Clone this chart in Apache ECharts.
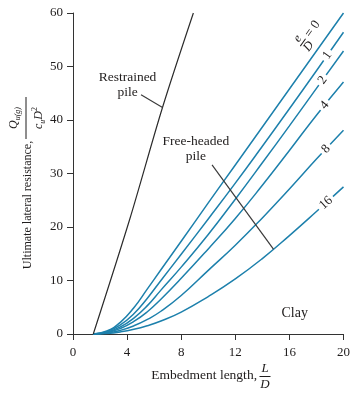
<!DOCTYPE html>
<html><head><meta charset="utf-8">
<script src="https://cdn.jsdelivr.net/npm/echarts@6/dist/echarts.min.js"></script>
<style>html,body{margin:0;padding:0;background:#fff}#c{width:353px;height:394px}</style>
</head><body><div id="c"></div>
<script>
// ---- data ----
const xTicks = [0, 4, 8, 12, 16, 20];
const yTicks = [0, 10, 20, 30, 40, 50, 60];
const restrained = [[1.5,0],[4.2,21.5],[6.6,42.2],[8.9,60]];
const ed0  = [[1.5,0],[2.5,0.55],[3.5,2.18],[4.5,4.91],[5.5,8.44],[6.5,12.0],[8,17.34],[10,24.5],[12,31.6],[14,38.7],[16,45.8],[18,52.9],[20,60]];
const ed1  = [[1.5,0],[2.5,0.45],[3.5,1.7],[4.5,3.8],[5.5,6.7],[6.5,10.0],[8,14.9],[10,21.5],[12,28.2],[14,35.1],[16,42.1],[18,49.2],[20,56.4]];
const ed2  = [[1.5,0],[2.5,0.33],[3.5,1.32],[4.5,2.98],[5.5,5.3],[6.5,8.2],[8,12.5],[10,18.6],[12,25.2],[14,32.0],[16,38.9],[18,45.9],[20,52.9]];
const ed4  = [[1.5,0],[2.5,0.26],[3.5,1.04],[4.5,2.34],[5.5,4.16],[6.5,6.5],[8,10.4],[10,15.9],[12,21.6],[14,27.8],[16,34.3],[18,40.9],[20,47.1]];
const ed8  = [[1.5,0],[2.5,0.17],[3.5,0.68],[4.5,1.53],[5.5,2.72],[6.5,4.25],[8,7.2],[10,11.9],[12,16.6],[14,21.7],[16,27.1],[18,32.7],[20,38.1]];
const ed16 = [[1.5,0],[2.5,0.1],[3.5,0.39],[4.5,0.87],[5.5,1.55],[6.5,2.43],[8,4.1],[10,7.0],[12,10.3],[14,14.1],[16,18.4],[18,22.9],[20,27.5]];
const curveNames = ['0','1','2','4','8','16'];
const curves = [ed0, ed1, ed2, ed4, ed8, ed16];
const curveLabelX = [null, 18.8, 18.45, 18.6, 18.7, 18.7];

const BLUE = '#1d80ac';
const INK = '#1f1c1c';
const FONT = '"Liberation Serif","Times New Roman",serif';

const chart = echarts.init(document.getElementById('c'), null, {renderer:'canvas'});
const axisCommon = {
  axisLine:{show:true, lineStyle:{color:'#333', width:1}},
  axisTick:{show:true, inside:false, length:6, lineStyle:{color:'#333', width:1}},
  splitLine:{show:false},
  axisLabel:{fontFamily:FONT, fontSize:13, color:INK}
};
const series = [{
  type:'line', data:restrained, symbol:'none', smooth:0.3, lineStyle:{color:'#2b2b2b', width:1.2}, z:3
}];
curves.forEach((c,i)=>series.push({
  type:'line', name:curveNames[i], data:c, symbol:'none', smooth:0.5,
  lineStyle:{color:BLUE, width:1.5}, z:2
}));
chart.setOption({
  animation:false,
  grid:{left:73, right:7, top:13, bottom:60},
  xAxis:Object.assign({type:'value', min:xTicks[0], max:xTicks[xTicks.length-1], interval:xTicks[1]-xTicks[0]}, axisCommon,
    {axisLabel:Object.assign({}, axisCommon.axisLabel, {margin:12})}),
  yAxis:Object.assign({type:'value', min:yTicks[0], max:yTicks[yTicks.length-1], interval:yTicks[1]-yTicks[0]}, axisCommon,
    {axisLabel:Object.assign({}, axisCommon.axisLabel, {margin:10})}),
  series:series
});

function interp(data, x){
  for(let i=0;i<data.length-1;i++){
    const a=data[i], b=data[i+1];
    if(x>=a[0] && x<=b[0]) return a[1]+(b[1]-a[1])*(x-a[0])/(b[0]-a[0]);
  }
  return data[data.length-1][1];
}
const px = p => chart.convertToPixel({gridIndex:0}, p);
function angleAt(data, x){
  const a = px([x-0.4, interp(data,x-0.4)]), b = px([x+0.4, interp(data,x+0.4)]);
  return Math.atan2(a[1]-b[1], b[0]-a[0]);
}
const g = [];
curves.forEach((c,i)=>{
  if(curveLabelX[i]==null) return;
  const p = px([curveLabelX[i], interp(c, curveLabelX[i])]);
  g.push({type:'text', x:p[0], y:p[1], rotation:angleAt(c, curveLabelX[i]), z:10,
    style:{text:curveNames[i], fill:INK, font:'13px '+FONT, align:'center', verticalAlign:'middle',
      textAlign:'center', textVerticalAlign:'middle', backgroundColor:'#fff', padding:[0,3]}});
});
{
  const p = px([17.0, 54.5]);
  g.push({type:'group', x:p[0], y:p[1], rotation:angleAt(ed0, 18), z:10, children:[
    {type:'text', x:0, y:-6.5, style:{text:'e', fill:INK, font:'italic 12.5px '+FONT, align:'center', verticalAlign:'middle', textAlign:'center', textVerticalAlign:'middle'}},
    {type:'line', shape:{x1:-4.5, y1:0, x2:4.5, y2:0}, style:{stroke:INK, lineWidth:1}},
    {type:'text', x:0, y:7, style:{text:'D', fill:INK, font:'italic 12.5px '+FONT, align:'center', verticalAlign:'middle', textAlign:'center', textVerticalAlign:'middle'}},
    {type:'text', x:8, y:0, style:{text:'= 0', fill:INK, font:'13px '+FONT, align:'left', verticalAlign:'middle', textAlign:'left', textVerticalAlign:'middle'}}
  ]});
}
function note(text, xy, size){
  const p = px(xy);
  g.push({type:'text', x:p[0], y:p[1], z:10, style:{text:text, fill:INK, font:size+'px '+FONT, align:'center', verticalAlign:'middle', textAlign:'center', textVerticalAlign:'middle', lineHeight:15}});
}
note('Restrained\npile', [4.03, 46.5], 13.5);
note('Free-headed\npile', [9.08, 34.6], 13.5);
note('Clay', [16.39, 3.9], 14);
function leader(from, toCurve, toX){
  const a = px(from), b = px([toX, interp(toCurve, toX)]);
  g.push({type:'line', z:9, shape:{x1:a[0], y1:a[1], x2:b[0], y2:b[1]}, style:{stroke:'#3a3a3a', lineWidth:1.2}});
}
leader([5.03, 44.7], restrained, 6.62);
leader([10.28, 31.6], ed16, 14.82);

const rich = {
  i:{fontFamily:FONT, fontStyle:'italic', fontSize:12, lineHeight:16, fill:INK, color:INK, verticalAlign:'middle'},
  s:{fontFamily:FONT, fontStyle:'italic', fontSize:8, lineHeight:8, fill:INK, color:INK, verticalAlign:'bottom'},
  t:{fontFamily:FONT, fontSize:8, lineHeight:8, fill:INK, color:INK, verticalAlign:'top'}
};
const R = Math.PI/2;
g.push({type:'text', x:28, y:205, rotation:R, style:{text:'Ultimate lateral resistance,', fill:INK, font:'12px '+FONT, align:'center', verticalAlign:'middle', textAlign:'center', textVerticalAlign:'middle'}});
g.push({type:'text', x:14, y:118, rotation:R, style:{text:'{i|Q}{s|u(g)}', rich:rich, fill:INK, align:'center', verticalAlign:'middle', textAlign:'center', textVerticalAlign:'middle'}});
g.push({type:'line', shape:{x1:26, y1:97, x2:26, y2:139}, style:{stroke:INK, lineWidth:1}});
g.push({type:'text', x:39, y:118, rotation:R, style:{text:'{i|c}{s|u}{i|D}{t|2}', rich:rich, fill:INK, align:'center', verticalAlign:'middle', textAlign:'center', textVerticalAlign:'middle'}});

g.push({type:'text', x:257, y:375, style:{text:'Embedment length,', fill:INK, font:'13.5px '+FONT, align:'right', verticalAlign:'middle', textAlign:'right', textVerticalAlign:'middle'}});
g.push({type:'text', x:265, y:368.5, style:{text:'L', fill:INK, font:'italic 13px '+FONT, align:'center', verticalAlign:'middle', textAlign:'center', textVerticalAlign:'middle'}});
g.push({type:'line', shape:{x1:259.5, y1:376.5, x2:270.5, y2:376.5}, style:{stroke:INK, lineWidth:1}});
g.push({type:'text', x:265, y:384.5, style:{text:'D', fill:INK, font:'italic 13px '+FONT, align:'center', verticalAlign:'middle', textAlign:'center', textVerticalAlign:'middle'}});

chart.setOption({graphic:{elements:g}});
</script></body></html>
